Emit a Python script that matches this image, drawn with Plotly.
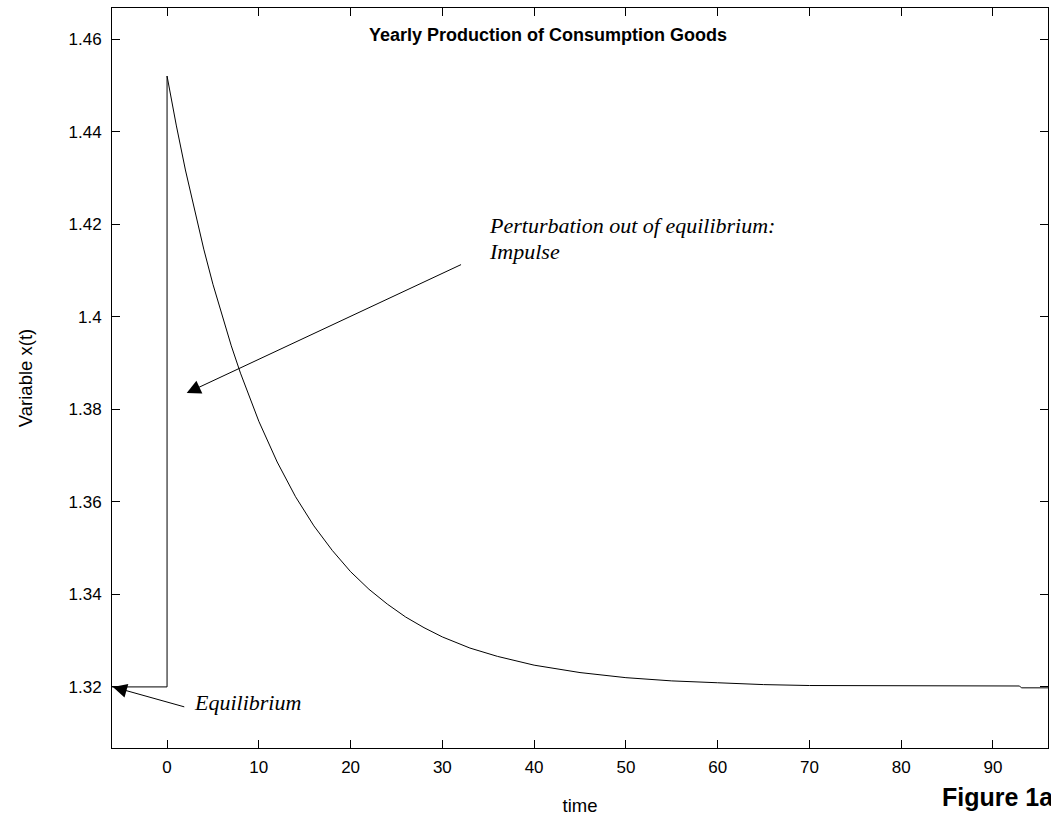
import plotly.graph_objects as go

# time axis and variable x(t)
time = [-6, -0.001, 0, 1, 2, 3, 4, 5, 6, 7, 8, 9, 10, 12, 14, 16, 18, 20, 22, 24, 26, 28, 30,
        33, 36, 40, 45, 50, 55, 60, 65, 70, 80, 92.9, 93.1, 96]
x_t = [1.320, 1.320, 1.452, 1.4414, 1.4317, 1.4228, 1.4146, 1.4070, 1.4001, 1.3937, 1.3878,
       1.3824, 1.3774, 1.3686, 1.3611, 1.3548, 1.3495, 1.3449, 1.3411, 1.3379, 1.3351, 1.3328,
       1.3308, 1.3284, 1.3266, 1.3247, 1.3231, 1.3220, 1.3213, 1.3209, 1.3205, 1.3203, 1.3202,
       1.3202, 1.3198, 1.3198]

x_ticks = [0, 10, 20, 30, 40, 50, 60, 70, 80, 90]
y_ticks = [1.32, 1.34, 1.36, 1.38, 1.40, 1.42, 1.44, 1.46]
y_labels = ["1.32", "1.34", "1.36", "1.38", "1.4", "1.42", "1.44", "1.46"]

W, H = 1051, 821
ML, MR, MT, MB = 112, 3, 8, 73
SANS = "Liberation Sans, Arial, Helvetica, sans-serif"
SERIF = "Liberation Serif, Times New Roman, serif"

fig = go.Figure()
fig.add_trace(go.Scatter(x=time, y=x_t, mode="lines",
                         line=dict(color="black", width=1), hoverinfo="skip",
                         showlegend=False))

axis_common = dict(showline=True, linecolor="black", linewidth=1, mirror="allticks",
                   ticks="inside", ticklen=8, tickcolor="black", tickwidth=1,
                   showgrid=False, zeroline=False,
                   tickfont=dict(family=SANS, size=17, color="black"))

fig.update_xaxes(range=[-6, 96], tickvals=x_ticks, ticklabelstandoff=4,
                 title=dict(text="time", font=dict(family=SANS, size=18.5, color="black"),
                            standoff=22),
                 **axis_common)
fig.update_yaxes(range=[1.3068, 1.4667], tickvals=y_ticks, ticktext=y_labels,
                 ticklabelstandoff=6,
                 title=dict(text="Variable x(t)", font=dict(family=SANS, size=18.5, color="black"),
                            standoff=31),
                 **axis_common)

def px_x(p):
    return (p - ML) / (W - ML - MR)

def px_y(p):
    return 1 - (p - MT) / (H - MT - MB)

ann = []
# title inside plot
ann.append(dict(text="<b>Yearly Production of Consumption Goods</b>", xref="paper", yref="paper",
                x=px_x(548), y=px_y(35), xanchor="center", yanchor="middle", showarrow=False,
                font=dict(family=SANS, size=18, color="black")))
# arrows (no text)
ann.append(dict(text="", x=-5.9, y=1.32, ax=2.04, ay=1.3156, xref="x", yref="y",
                axref="x", ayref="y", showarrow=True, arrowhead=2, arrowsize=2.8,
                arrowwidth=1, arrowcolor="black"))
ann.append(dict(text="", x=2.14, y=1.3835, ax=32.2, ay=1.4114, xref="x", yref="y",
                axref="x", ayref="y", showarrow=True, arrowhead=2, arrowsize=2.8,
                arrowwidth=1, arrowcolor="black"))
# italic labels
ann.append(dict(text="Equilibrium", x=2.7, y=1.3167, xref="x", yref="y", xanchor="left",
                yanchor="middle", showarrow=False,
                font=dict(family=SERIF, size=22, style="italic", color="black")))
ann.append(dict(text="Perturbation out of equilibrium:", x=34.9, y=1.4196, xref="x", yref="y",
                xanchor="left", yanchor="middle", showarrow=False,
                font=dict(family=SERIF, size=22, style="italic", color="black")))
ann.append(dict(text="Impulse", x=34.9, y=1.4141, xref="x", yref="y",
                xanchor="left", yanchor="middle", showarrow=False,
                font=dict(family=SERIF, size=22, style="italic", color="black")))
# figure label, cut by right edge
ann.append(dict(text="<b>Figure 1a</b>", xref="paper", yref="paper", x=px_x(940), y=px_y(797),
                xanchor="left", yanchor="middle", showarrow=False,
                font=dict(family=SANS, size=25, color="black")))

fig.update_layout(width=W, height=H, margin=dict(l=ML, r=MR, t=MT, b=MB),
                  paper_bgcolor="white", plot_bgcolor="white", annotations=ann)

fig.write_html("out.html")
